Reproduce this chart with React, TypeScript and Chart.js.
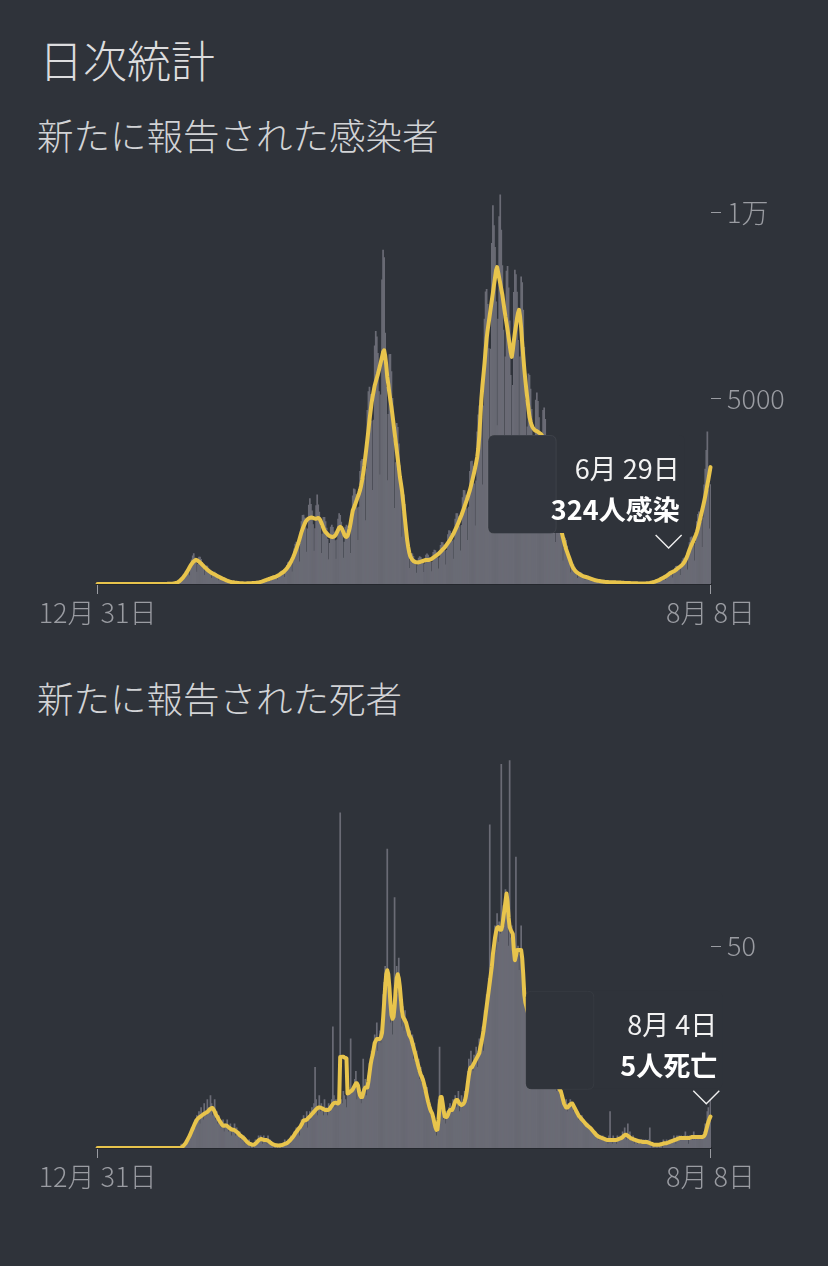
import React, { useEffect, useRef } from 'react';
import { Chart, registerables } from 'chart.js';

Chart.register(...registerables);

// ---------- categories ----------
const START_UTC = Date.UTC(2019, 11, 31);
const DAY_COUNT = 587; // 2019-12-31 .. 2021-08-08
const dayLabels: string[] = [];
for (let i = 0; i < DAY_COUNT; i++) {
  const d = new Date(START_UTC + i * 86400000);
  dayLabels.push(`${d.getUTCMonth() + 1}月 ${d.getUTCDate()}日`);
}

// ---------- daily new cases ----------
const caseDaily = [
  0,0,0,0,0,0,0,0,0,0, 0,0,0,0,0,0,0,0,0,0, 0,0,0,0,0,0,0,0,0,0,
  0,0,0,0,0,0,0,0,0,0, 0,0,0,0,0,0,0,0,0,0, 0,0,0,0,0,0,0,0,0,0, 0,
  1,1,2,2,3,3,2,4,7,10,12,13,14,10,21,
  42,63,84,105,108,75,157,264,325,360,385,360,225,425,650,760,820,700,585,
  320,530,726,725,666,578,446,233,370,492,481,432,374,288,150,242,324,319,288,248,189,90,140,180,188,168,143,104,50,68,84,78,66,55,45,23,
  34,43,40,34,28,20,10,15,20,20,19,18,15,9,16,24,28,29,29,25,15,29,46,55,60,64,59,38,72,114,
  131,138,138,122,73,132,198,219,222,215,185,110,200,300,338,348,341,297,180,332,504,575,600,605,540,330,612,948,1075,1128,
  1122,990,600,1105,1680,1850,1860,1782,1512,860,1488,2124,2300,2148,1969,1602,885,1496,2112,2400,2136,1936,1548,825,1343,
  1800,1800,1680,1507,1206,655,1097,1536,1588,1524,1408,1170,670,1190,1752,1900,1848,1672,1323,700,1131,1536,1588,1560,1518,1350,825,1547,2376,
  2562,2544,2420,2052,1180,2074,3036,3312,3360,3278,2862,1710,3102,4680,5188,5304,5115,4392,2525,4420,6420,6812,6660,6215,5184,2940,5100,8200,9000,
  8800,6765,5310,2790,4573,6180,6188,5724,5005,3888,2040,3272,4332,4225,3780,3190,2448,1265,1938,2400,2150,1740,1309,900,425,638,828,812,744,660,531,295,497,696,738,720,671,
  558,315,544,780,812,780,715,594,335,586,852,912,900,847,711,408,714,1044,1125,1116,1056,891,515,910,1332,1438,1428,1364,1161,670,
  1190,1752,1900,1896,1815,1548,895,1581,2328,2525,2520,2398,2034,1175,2074,3036,3300,3312,3168,2700,1565,2780,4104,4562,4800,4950,
  4500,2675,4802,7140,7875,7944,7535,6345,3625,6332,9180,10200,9660,9075,7605,4270,7140,9900,10500,9540,8580,6840,3700,6120,8436,8562,7980,7095,5625,3060,
  5355,7860,8462,8340,7865,6570,3695,6120,8280,8125,7380,6380,4950,2615,4233,5664,5625,5256,4708,3798,2090,3528,4956,5150,4920,4488,3654,2020,3400,
  4680,4750,4440,3938,3105,1650,2678,3600,3562,3240,2805,2160,1125,1785,2340,2250,1980,1650,1233,625,969,1236,1175,1032,858,630,310,459,564,525,456,
  385,288,150,238,312,306,276,236,184,98,162,216,212,192,165,126,65,102,132,125,114,99,76,40,64,84,82,74,64,50,
  26,44,60,62,60,55,43,23,37,50,50,48,44,34,18,29,38,38,36,33,25,13,20,26,25,24,21,16,9,14,19,
  20,18,15,13,7,13,19,22,24,26,25,17,34,58,70,78,82,76,48,94,150,175,186,187,166,100,187,288,324,342,
  330,284,165,293,432,475,486,473,405,235,421,624,688,708,704,630,385,722,1116,1250,1272,1232,1062,625,1122,1680,1875,1944,1914,1674,990,
  1785,2676,3100,3600,4100,2538,1490,2678,
];

// ---------- 7-day average of new cases ----------
const caseAvg = [
  0,0,0,0,0,0,0,0,0,0, 0,0,0,0,0,0,0,0,0,0, 0,0,0,0,0,0,0,0,0,0,
  0,0,0,0,0,0,0,0,0,0, 0,0,0,0,0,0,0,0,0,0, 0,0,0,0,0,0,0,0,0,0, 0,
  1,1,2,2,3,3,4,5,6,8,10,12,15,20,25,
  35,50,70,95,120,150,185,220,260,300,350,400,450,500,540,580,610,630,650,
  640,625,605,580,555,525,495,465,435,410,385,360,340,320,300,285,270,255,240,225,210,195,180,165,150,140,130,115,100,90,80,70,62,55,50,45,
  40,36,32,28,25,22,20,18,17,16,16,16,17,18,19,20,22,24,26,28,30,34,38,44,50,58,66,75,85,95,
  105,115,125,135,145,155,165,175,185,195,205,220,235,250,270,290,310,330,360,390,420,460,500,550,600,660,720,790,860,940,
  1020,1100,1200,1300,1400,1480,1550,1620,1680,1720,1750,1770,1780,1790,1790,1780,1770,1760,1760,1770,1780,1760,1720,1650,1580,
  1500,1440,1400,1370,1340,1310,1290,1280,1270,1270,1280,1300,1340,1400,1460,1520,1540,1520,1470,1400,1330,1280,1270,1300,1380,1500,1650,1820,1980,
  2050,2120,2200,2280,2360,2440,2530,2650,2800,2980,3180,3420,3650,3900,4150,4420,4650,4880,5050,5200,5350,5450,5550,5650,5760,5880,6000,6120,6250,
  6300,6150,5900,5580,5380,5150,4950,4770,4550,4320,4080,3850,3610,3380,3150,2900,2720,2530,2280,2000,1720,1450,1190,1000,850,750,690,650,620,600,590,585,580,585,590,600,610,
  620,630,640,650,650,650,650,660,670,690,710,730,750,770,790,815,840,870,900,930,960,990,1030,1070,1110,1150,1190,1240,1290,1340,
  1400,1460,1520,1580,1650,1720,1790,1860,1940,2020,2100,2180,2260,2350,2440,2530,2640,2760,2880,3000,3130,3270,3420,3650,4000,4500,
  5000,5350,5650,5950,6300,6620,6850,7050,7250,7450,7650,7850,8050,8250,8450,8540,8400,8250,8100,7950,7800,7600,7400,7200,7030,6850,6650,6450,6250,6120,
  6300,6550,6770,6950,7150,7300,7390,7200,6900,6500,6150,5800,5500,5230,4980,4720,4500,4380,4280,4220,4180,4150,4130,4120,4100,4080,4060,4040,4000,
  3900,3800,3700,3580,3450,3300,3150,3000,2850,2700,2550,2400,2250,2100,1950,1800,1650,1500,1370,1250,1140,1030,940,860,780,700,620,540,470,420,380,
  350,320,300,280,260,245,230,215,205,195,190,180,170,160,150,140,130,120,110,100,95,90,85,80,75,70,66,62,58,55,
  53,52,50,50,50,50,48,46,44,42,40,40,40,38,36,34,32,30,30,30,28,26,24,22,20,20,19,18,18,17,16,
  16,15,14,14,14,15,16,18,20,24,28,34,40,48,56,65,75,85,95,110,125,140,155,170,185,200,220,240,260,285,
  300,315,330,345,360,380,405,430,450,470,495,520,550,590,640,700,770,850,930,1000,1060,1120,1180,1250,1320,1400,1500,1620,1740,1860,1980,
  2100,2230,2370,2520,2670,2820,2980,3150,
];

// ---------- daily new deaths ----------
const deathDaily = [
  0,0,0,0,0,0,0,0,0,0, 0,0,0,0,0,0,0,0,0,0, 0,0,0,0,0,0,0,0,0,0, 0,0,0,0,0,0,0,0,0,0,
  0,0,0,0,0,0,0,0,0,0, 0,0,0,0,0,0,0,0,0,0, 0,0,0,0,0,0,0,0,0,0, 0,0,0,0,0,0,0,0,0,0,
  1,0,1,1,1,2,2,3,2,4, 5,4,6,7,5,8,7,9,6,10, 8,7,11,9,8,12,10,9,13,11, 8,
  10,12,7,9,6,8,7,5,6,7, 4,6,5,7,4,5,6,3,5,4, 6,3,5,4,3,4,2,3,2,3, 1,2,1,1,2,0,1,1,0,1, 2,1,2,3,2,3,2,1,3,2,
  2,1,3,1,2,1,1,0,1,1, 0,1,0,1,1,0,1,1,2,1, 1,2,2,1,3,2,3,4,3,5,
  4,5,3,6,7,5,8,6,7,9, 5,8,9,7,10,8,11,20,12,8, 10,13,9,11,10,8,12,9,10,8, 11,10,9,12,30,13,10,12,11,12, 13,83,12,11,14,13,12,10,14,15, 13,27,14,15,
  14,17,19,12,16,15,13,11,14,22, 15,17,13,16,18,21,19,24,22,26, 28,25,31,24,27,29,26,30,38,41, 45,39,74,40,36,31,35,28,33,62,
  40,45,38,47,36,33,30,35,29,34, 32,28,30,27,29,25,28,22,26,21, 24,19,22,17,20,16,
  18,14,16,12,15,10,11,8,10,7, 8,5,6,3,4,12,25,11,13,9, 7,8,6,9,8,10,11,9,10,12, 11,13,10,12,14,9,11,13,10,12, 14,11,16,19,22,18,24,21,19,23, 22,25,20,24,27,26,
  27,30,24,34,33,38,36,42,80,41, 47,44,52,55,49,58,51,56,53,95, 57,60,55,64,62,58,50,96,52,55, 49,51,46,72,47,50,44,48,55,45, 40,36,38,33,35,31,34,30,32,28, 30,27,29,26,28,24,27,25,23,
  25,22,24,20,23,21,19,22,18,20, 17,19,16,14,17,15,13,16,12,13, 11,10,12,9,11,10,12,10,11,9,10,
  10,8,9,7,8,7,8,6,7,6, 6,5,6,5,5,4,5,4,3,4, 3,3,2,3,3,2,3,2,2,2,
  2,1,3,9,2,1,3,2,2,1, 3,2,2,3,2,4,3,5,3,2, 6,2,4,2,2,3,1,2,2,1,2,
  2,1,2,1,2,1,2,1,1,2, 5,1,0,1,1,0,1,1,0,1, 1,1,0,2,1,1,2,1,1,2,
  2,1,2,3,2,1,3,2,3,2, 3,2,2,3,4,2,3,1,3,2, 3,2,4,2,3,2,3,3,2,3,3,
  3,4,6,5,9,10,8,12,
];

// ---------- 7-day average of new deaths ----------
const deathAvg = [
  0,0,0,0,0,0,0,0,0,0, 0,0,0,0,0,0,0,0,0,0, 0,0,0,0,0,0,0,0,0,0, 0,0,0,0,0,0,0,0,0,0,
  0,0,0,0,0,0,0,0,0,0, 0,0,0,0,0,0,0,0,0,0, 0,0,0,0,0,0,0,0,0,0, 0,0,0,0,0,0,0,0,0,0,
  0.1,0.3,0.5,0.8,1.1,1.5,2,2.5,3,3.6, 4.2,4.8,5.4,6,6.5,7,7.3,7.5,7.7,7.9, 8.1,8.3,8.5,8.6,8.8,8.9,9.2,9.5,9.7,9.9, 9.9,
  9.5,9,8.4,7.9,7.5,7,6.6,6.2,5.8,5.5, 5.5,5.6,5.6,5.4,5.2,5,4.8,4.6,4.5,4.5, 4.4,4.2,4,3.8,3.5,3.2,3,2.8,2.6,2.4, 2.1,1.8,1.5,1.3,1.1,1,0.9,0.8,0.8,0.9, 1.1,1.3,1.6,1.9,2.1,2.2,2.2,2.1,2,2,
  2,1.9,1.8,1.6,1.4,1.2,1,0.9,0.8,0.7, 0.7,0.6,0.6,0.6,0.7,0.7,0.8,0.9,1,1.1, 1.2,1.4,1.6,1.9,2.2,2.5,2.8,3.2,3.6,4,
  4.3,4.7,5,5.3,5.8,6.3,6.8,6.9,6.9,7, 7.3,7.6,7.8,8.1,8.4,8.7,9,9.3,9.6,9.8, 10,10,10,9.9,9.8,9.6,9.5,9.4,9.4,9.4, 9.5,9.7,10.1,10.5,10.9,11.1,11.2,11.2,11.1,11, 11.3,22.5,22.5,22.6,22.6,22.4,22.3,22.2,13.5,13.6, 13.8,14,14.2,14.5,
  15,15.5,16,16,15.5,14,13,12.6,12.6,13.5, 14.5,15,15,15,16.5,18.5,20.5,22,23,24.5, 26,26.5,27,27,27,27,27.5,28.5,32,36, 40,43,44,43,40,36,33,32,32.5,35,
  39,42,43,42,40,37,34,32.5,32,31.5, 31,30,29,28,27.5,27,26,25,24,23, 22,21,20,19,18.2,17.6,
  17,16,15,13.8,12.6,11.5,10.5,9.6,9,8.5, 7.5,6.3,5.2,4.5,4.6,7,10.5,12.6,12.6,11, 9,7.8,7.7,7.7,8.2,9,9.4,9.4,9.4,10, 10.8,11.5,11.9,11.9,11.5,11,10.8,10.6,10.8,11, 11.5,12.5,14,16,18,19.5,20,20,20.5,21, 21.5,22,22.5,23,23.5,25,
  26,27.5,29,31,33,35,37,39,41,43, 45,48,50,52,53.5,54.5,54.7,54.5,54,54, 55,57,59,61,63,61,57,54.7,54,53.5, 53,49,46.5,47.5,49,49,49,49,49,47, 43,38,36,35,34,33,32,31,30,29, 28.5,28,27.5,27,26.5,26,25.5,25,24.5,
  24,23.5,23,22.5,22,21.5,21,20.5,20,19.5, 19,18,17,16,15.5,15,14.4,14,13,12, 11,10.5,10,10,10.2,10.5,10.8,11,11,10.5,10,
  9.5,9,8.5,8,7.7,7.4,7.1,6.8,6.5,6.2, 5.9,5.6,5.4,5.2,5,4.7,4.4,4.1,3.8,3.5, 3.2,3,2.8,2.7,2.6,2.5,2.4,2.3,2.2,2.1,
  2,2,2,2,2,2,2,2,2,2, 2.1,2.2,2.3,2.4,2.5,2.7,3,3.2,3.3,3.2, 3,2.8,2.6,2.4,2.3,2.2,2.1,2,1.9,1.8,1.7,
  1.7,1.6,1.6,1.5,1.5,1.5,1.5,1.5,1.4,1.3, 1.2,1.1,1,0.9,0.8,0.8,0.8,0.8,0.8,0.8, 0.9,0.9,1,1.1,1.2,1.2,1.2,1.3,1.4,1.5,
  1.6,1.7,1.8,1.9,2,2.1,2.2,2.3,2.4,2.5, 2.5,2.5,2.5,2.5,2.5,2.5,2.5,2.5,2.5,2.6, 2.7,2.7,2.7,2.7,2.7,2.7,2.7,2.7,2.7,2.7,2.7,
  2.8,3,3.5,4.5,5.5,6.5,7.2,7.8,
];

// ---------- axis ticks ----------
const caseTickValues = [5000, 10000];
const caseTickLabels = ['5000', '1万'];
const deathTickValues = [50];
const deathTickLabels = ['50'];

// ---------- highlighted days ----------
const caseNoteDay = 546; // 2021-06-29
const deathNoteDay = 582; // 2021-08-04

const BG = '#2f333a';
const BAR = '#6a6b75';
const LINE = '#e8c44c';
const TICK_COLOR = '#9a9ca2';
const FONT = '"Noto Sans CJK JP", "Noto Sans", sans-serif';
const LIGHT_FONT = '"Noto Sans CJK JP Light", "Noto Sans CJK JP DemiLight", "Noto Sans CJK JP", sans-serif';

function roundRect(ctx: CanvasRenderingContext2D, x: number, y: number, w: number, h: number, r: number) {
  ctx.beginPath();
  ctx.moveTo(x + r, y);
  ctx.lineTo(x + w - r, y);
  ctx.quadraticCurveTo(x + w, y, x + w, y + r);
  ctx.lineTo(x + w, y + h - r);
  ctx.quadraticCurveTo(x + w, y + h, x + w - r, y + h);
  ctx.lineTo(x + r, y + h);
  ctx.quadraticCurveTo(x, y + h, x, y + h - r);
  ctx.lineTo(x, y + r);
  ctx.quadraticCurveTo(x, y, x + r, y);
  ctx.closePath();
}

const notePlugin = {
  id: 'note',
  afterDatasetsDraw(chart: any, _args: any, opts: any) {
    const { ctx } = chart;
    const x = chart.scales.x;
    const y = chart.scales.y;
    const idx = opts.index as number;
    const px = x.getPixelForValue(idx);
    const cb = y.getPixelForValue(opts.value) - 24;
    const top = cb - 113;
    const bottom = cb - 15;
    ctx.save();
    ctx.fillStyle = BG;
    roundRect(ctx, px - 180, top, 196, bottom - top, 6);
    ctx.fill();
    ctx.fillStyle = opts.panelFill;
    ctx.strokeStyle = opts.panelStroke;
    ctx.lineWidth = 1;
    roundRect(ctx, px - 180.5, top + 0.5, 68, bottom - top, 6);
    ctx.fill();
    ctx.stroke();
    ctx.textAlign = 'right';
    ctx.textBaseline = 'middle';
    ctx.fillStyle = '#f2f2f2';
    ctx.font = `400 27px ${FONT}`;
    ctx.fillText(opts.line1, px + 11, cb - 79);
    ctx.fillStyle = '#ffffff';
    ctx.font = `700 27px ${FONT}`;
    ctx.fillText(opts.line2, px + 11, cb - 38);
    ctx.strokeStyle = '#eeeeee';
    ctx.lineWidth = 1.4;
    ctx.beginPath();
    ctx.moveTo(px - 13, cb - 13);
    ctx.lineTo(px, cb);
    ctx.lineTo(px + 13, cb - 13);
    ctx.stroke();
    ctx.restore();
  },
};

type ChartProps = {
  daily: number[];
  avg: number[];
  yMax: number;
  tickValues: number[];
  tickLabels: string[];
  noteDay: number;
  noteUnit: string;
  top: number;
  height: number;
  topPad: number;
  xAxisH: number;
  panelFill: string;
  panelStroke: string;
};

function DailyChart(p: ChartProps) {
  const ref = useRef<HTMLCanvasElement>(null);
  useEffect(() => {
    if (!ref.current) return;
    const tickFont = { family: LIGHT_FONT, size: 27, weight: '300' as any, lineHeight: 1.0 };
    const chart = new Chart(ref.current, {
      type: 'bar',
      data: {
        labels: dayLabels,
        datasets: [
          {
            type: 'line',
            data: p.avg,
            borderColor: LINE,
            borderWidth: 4,
            pointRadius: 0,
            tension: 0,
            borderJoinStyle: 'round',
            borderCapStyle: 'round',
            order: 0,
          } as any,
          {
            type: 'bar',
            data: p.daily,
            backgroundColor: BAR,
            borderWidth: 0,
            barPercentage: 1,
            categoryPercentage: 1,
            order: 1,
          } as any,
        ],
      },
      options: {
        responsive: false,
        maintainAspectRatio: false,
        animation: false,
        devicePixelRatio: 1,
        layout: { padding: { left: 97, right: 0, top: p.topPad, bottom: 0 } },
        plugins: {
          legend: { display: false },
          tooltip: { enabled: false },
          note: {
            index: p.noteDay,
            value: p.daily[p.noteDay],
            line1: dayLabels[p.noteDay],
            line2: `${p.daily[p.noteDay]}${p.noteUnit}`,
            panelFill: p.panelFill,
            panelStroke: p.panelStroke,
          },
        } as any,
        scales: {
          x: {
            type: 'category',
            offset: true,
            grid: {
              display: true,
              offset: false,
              drawOnChartArea: false,
              drawTicks: true,
              tickLength: 10,
              color: TICK_COLOR,
              lineWidth: 1,
            },
            border: { display: true, color: '#24272d', width: 2 },
            ticks: {
              autoSkip: false,
              maxRotation: 0,
              minRotation: 0,
              padding: 5,
              color: TICK_COLOR,
              font: tickFont,
              callback: (v: any) => dayLabels[v as number],
            },
            afterBuildTicks: (s: any) => {
              s.ticks = [{ value: 0 }, { value: DAY_COUNT - 1 }];
            },
            afterFit: (s: any) => {
              s.height = p.xAxisH;
            },
          },
          y: {
            type: 'linear',
            position: 'right',
            min: 0,
            max: p.yMax,
            grid: {
              display: true,
              drawOnChartArea: false,
              drawTicks: true,
              tickLength: 10,
              color: TICK_COLOR,
              lineWidth: 1,
            },
            border: { display: false },
            ticks: {
              padding: 6,
              color: TICK_COLOR,
              font: tickFont,
              callback: (v: any) => {
                const i = p.tickValues.indexOf(Number(v));
                return i >= 0 ? p.tickLabels[i] : '';
              },
            },
            afterBuildTicks: (s: any) => {
              s.ticks = p.tickValues.map((v) => ({ value: v }));
            },
            afterFit: (s: any) => {
              s.width = 117;
              s.paddingTop = 0;
              s.paddingBottom = 0;
            },
          },
        },
      } as any,
      plugins: [notePlugin as any],
    });
    return () => chart.destroy();
  }, []);
  return (
    <canvas
      ref={ref}
      width={828}
      height={p.height}
      style={{ position: 'absolute', left: 0, top: p.top, width: 828, height: p.height }}
    />
  );
}

export default function App() {
  const titleStyle: React.CSSProperties = {
    position: 'absolute',
    margin: 0,
    fontFamily: LIGHT_FONT,
    fontWeight: 300,
    whiteSpace: 'nowrap',
  };
  return (
    <div style={{ position: 'relative', width: 828, height: 1266, background: BG, overflow: 'hidden' }}>
      <style>{`html,body{margin:0;padding:0;background:${BG};}`}</style>
      <div style={{ ...titleStyle, left: 39, top: 37, fontSize: 44, lineHeight: '44px', color: '#dcdcde' }}>日次統計</div>
      <div style={{ ...titleStyle, left: 37, top: 117, fontSize: 36.5, lineHeight: '36px', color: '#d2d3d6' }}>
        新たに報告された感染者
      </div>
      <DailyChart
        daily={caseDaily}
        avg={caseAvg}
        yMax={10500}
        tickValues={caseTickValues}
        tickLabels={caseTickLabels}
        noteDay={caseNoteDay}
        noteUnit="人感染"
        top={180}
        height={450}
        topPad={14.4}
        xAxisH={46}
        panelFill="#32363e"
        panelStroke="rgba(255,255,255,0.07)"
      />
      <div style={{ ...titleStyle, left: 37, top: 680, fontSize: 36.5, lineHeight: '36px', color: '#d2d3d6' }}>
        新たに報告された死者
      </div>
      <DailyChart
        daily={deathDaily}
        avg={deathAvg}
        yMax={96}
        tickValues={deathTickValues}
        tickLabels={deathTickLabels}
        noteDay={deathNoteDay}
        noteUnit="人死亡"
        top={740}
        height={450}
        topPad={20.2}
        xAxisH={42}
        panelFill={BG}
        panelStroke="rgba(255,255,255,0.04)"
      />
    </div>
  );
}
